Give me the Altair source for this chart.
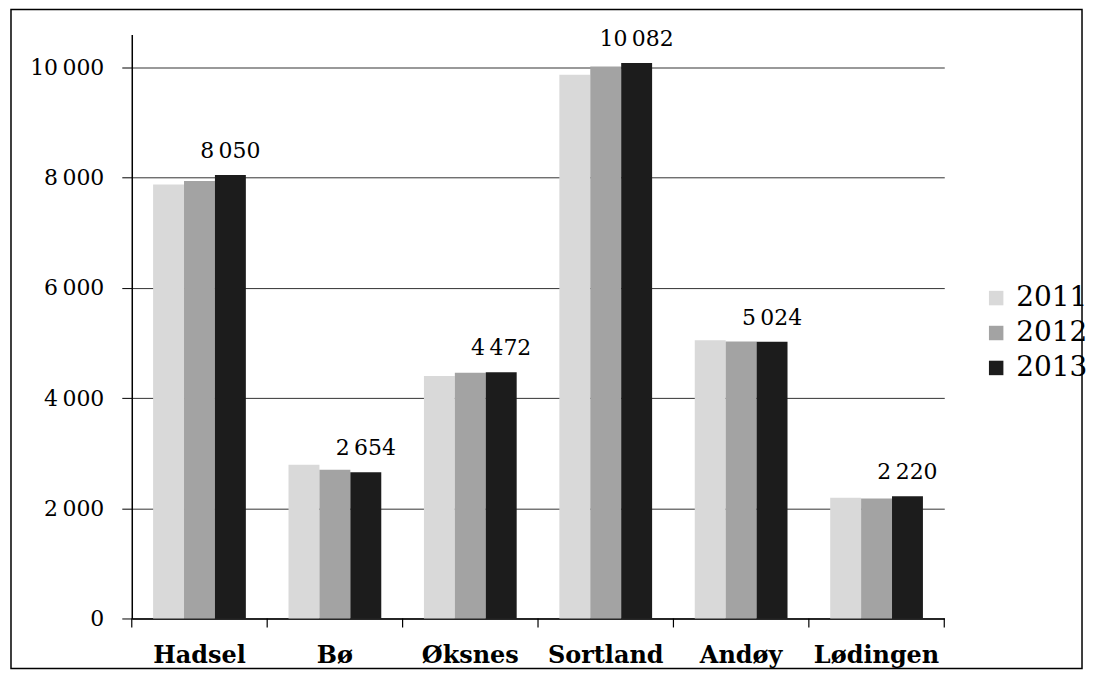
import altair as alt
import pandas as pd

cats = ["Hadsel", "Bø", "Øksnes", "Sortland", "Andøy", "Lødingen"]
years = ["2011", "2012", "2013"]
v2011 = [7880, 2790, 4400, 9870, 5050, 2190]
v2012 = [7940, 2700, 4460, 10020, 5030, 2180]
v2013 = [8050, 2654, 4472, 10082, 5024, 2220]
colors = ["#d9d9d9", "#a3a3a3", "#1c1c1c"]
y_ticks = [0, 2000, 4000, 6000, 8000, 10000]

rows = []
for yr, vals in zip(years, [v2011, v2012, v2013]):
    for c, v in zip(cats, vals):
        lab = f"{v:,}".replace(",", "\u2009")
        rows.append({"Kommune": c, "År": yr, "Verdi": v, "Etikett": lab})
df = pd.DataFrame(rows)

FONT = "DejaVu Serif"

xscale = alt.Scale(domain=cats, paddingInner=0, paddingOuter=0)
offscale = alt.Scale(domain=years, paddingInner=0, paddingOuter=0.69)
yscale = alt.Scale(domain=[0, 10600], nice=False)

base = alt.Chart(df)

bars = base.mark_bar().encode(
    x=alt.X("Kommune:N", sort=cats, scale=xscale,
            axis=alt.Axis(title=None, labelAngle=0, ticks=False, labelFont=FONT,
                          labelFontSize=24, labelFontWeight="bold", labelColor="black",
                          labelPadding=25, domainColor="black", domainWidth=1.5)),
    xOffset=alt.XOffset("År:N", scale=offscale),
    y=alt.Y("Verdi:Q", scale=yscale,
            axis=alt.Axis(title=None, values=y_ticks, labelFont=FONT, labelFontSize=22,
                          labelColor="black", tickColor="black", tickSize=10,
                          domainColor="black", domainWidth=1.5, gridColor="#333333",
                          gridWidth=1, labelPadding=18,
                          labelExpr="replace(format(datum.value, ','), ',', '\u2009')")),
    color=alt.Color("År:N", scale=alt.Scale(domain=years, range=colors),
                    legend=alt.Legend(title=None, orient="none", legendX=852, legendY=250,
                                      symbolType="square", symbolSize=210,
                                      symbolStrokeWidth=0, labelFont=FONT,
                                      labelFontSize=28, labelColor="black",
                                      rowPadding=7, labelOffset=6)),
)

text = base.transform_filter(alt.datum["År"] == "2013").mark_text(
    font=FONT, fontSize=22, baseline="bottom", dy=-12, color="black"
).encode(
    x=alt.X("Kommune:N", sort=cats, scale=xscale),
    xOffset=alt.XOffset("År:N", scale=offscale),
    y=alt.Y("Verdi:Q", scale=yscale),
    text="Etikett:N",
)

sep_df = pd.DataFrame({"Kommune": cats})
seps = alt.Chart(sep_df).mark_rule(color="black", strokeWidth=1.2).encode(
    x=alt.X("Kommune:N", sort=cats, scale=xscale, bandPosition=0),
    y=alt.value(585), y2=alt.value(594),
)
sep_end = alt.Chart(pd.DataFrame({"Kommune": [cats[-1]]})).mark_rule(
    color="black", strokeWidth=1.2).encode(
    x=alt.X("Kommune:N", sort=cats, scale=xscale, bandPosition=1),
    y=alt.value(585), y2=alt.value(594),
)

frame = alt.Chart(pd.DataFrame({"a": [0]})).mark_rect(
    filled=False, stroke="black", strokeWidth=1.5
).encode(
    x=alt.value(-121), x2=alt.value(952), y=alt.value(-25), y2=alt.value(635),
)

chart = alt.layer(frame, bars, text, seps, sep_end).properties(
    width=814, height=585, background="white",
    padding={"left": 2, "top": 0, "right": 0, "bottom": 0},
).configure_view(strokeWidth=0, stroke="transparent")

chart.save("out.html", embed_options={"renderer": "svg", "actions": False})
